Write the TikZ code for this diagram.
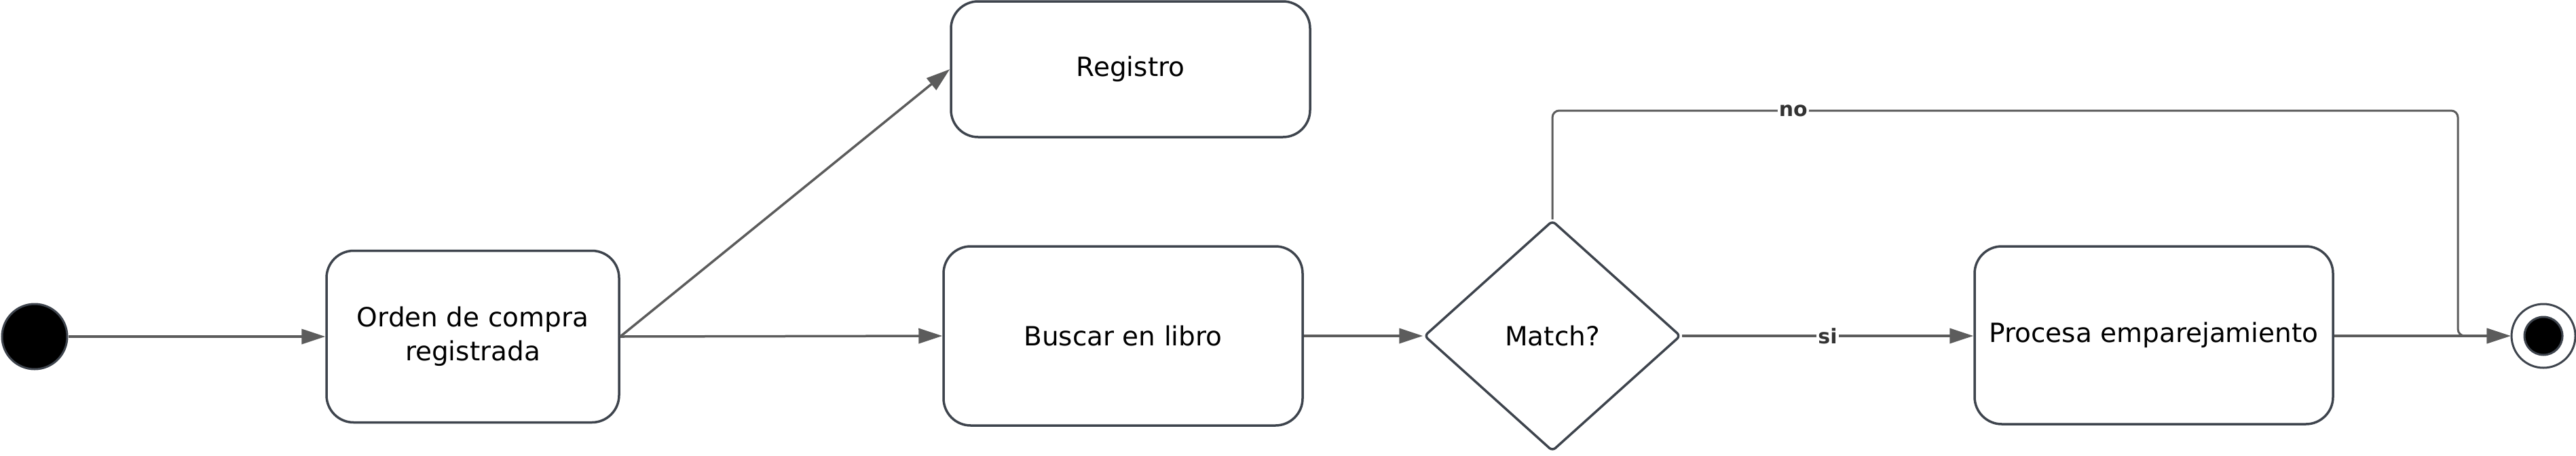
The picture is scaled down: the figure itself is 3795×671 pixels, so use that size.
\documentclass[tikz,border=0pt]{standalone}
\usepackage{fontspec}
\setmainfont{DejaVu Sans}
\usetikzlibrary{arrows.meta,shapes.geometric}
\definecolor{edgeC}{HTML}{5C5C5C}
\definecolor{boxC}{HTML}{3E444D}
\definecolor{lblC}{HTML}{333333}
\begin{document}
\begin{tikzpicture}[x=0.5pt,y=-0.5pt,
  statebox/.style={draw=boxC, line width=1.75pt, rounded corners=20pt, fill=white,
    font=\fontsize{19.5}{25}\selectfont, align=center, inner sep=0pt},
  decision/.style={diamond, draw=boxC, line width=1.75pt, rounded corners=3pt, fill=white,
    font=\fontsize{19.5}{25}\selectfont, inner sep=0pt,
    minimum width=189pt, minimum height=170pt},
  conn/.style={draw=edgeC, line width=1.75pt, -{Triangle[length=17.5pt,width=11pt]}},
  lbl/.style={fill=white, text=lblC, font=\fontsize{15}{17}\selectfont\bfseries, inner sep=1pt}
]
\useasboundingbox (0,0) rectangle (3795,671);

\node[circle, fill=black, draw=boxC, line width=1.5pt, minimum size=48pt, inner sep=0pt] (start) at (51,496) {};
\node[statebox, minimum width=215.5pt, minimum height=126.5pt] (orden) at (696.5,496) {Orden de compra\\registrada};
\node[statebox, minimum width=264.5pt, minimum height=100pt] (reg) at (1665.5,102) {Registro};
\node[statebox, minimum width=264.5pt, minimum height=132pt] (busc) at (1654.5,495) {Buscar en libro};
\node[decision] (match) at (2287,495) {Match?};
\node[statebox, minimum width=264pt, minimum height=131pt] (proc) at (3173,494) {Procesa emparejamiento};
\node[circle, draw=boxC, fill=white, line width=1.5pt, minimum size=47pt, inner sep=0pt] (fin) at (3747,495) {};
\node[circle, draw=boxC, fill=black, line width=1.5pt, minimum size=28pt, inner sep=0pt] (finin) at (fin.center) {};
\coordinate (nocorner) at (3621,163);

\draw[conn] (start.east) -- (orden.west);
\draw[conn] (orden.east) -- (reg.west);
\draw[conn] (orden.east) -- (busc.west);
\draw[conn] (busc.east) -- (match.west);
\draw[conn] (match.east) -- node[lbl]{si} (proc.west |- match.east);
\draw[conn] (proc.east |- fin.west) -- (fin.west);
\draw[draw=edgeC, line width=1.5pt, rounded corners=5pt, -{Triangle[length=17.5pt,width=11pt]}]
  (match.north) |- node[lbl, pos=0.633]{no} (nocorner) |- (fin.west);
\end{tikzpicture}
\end{document}
